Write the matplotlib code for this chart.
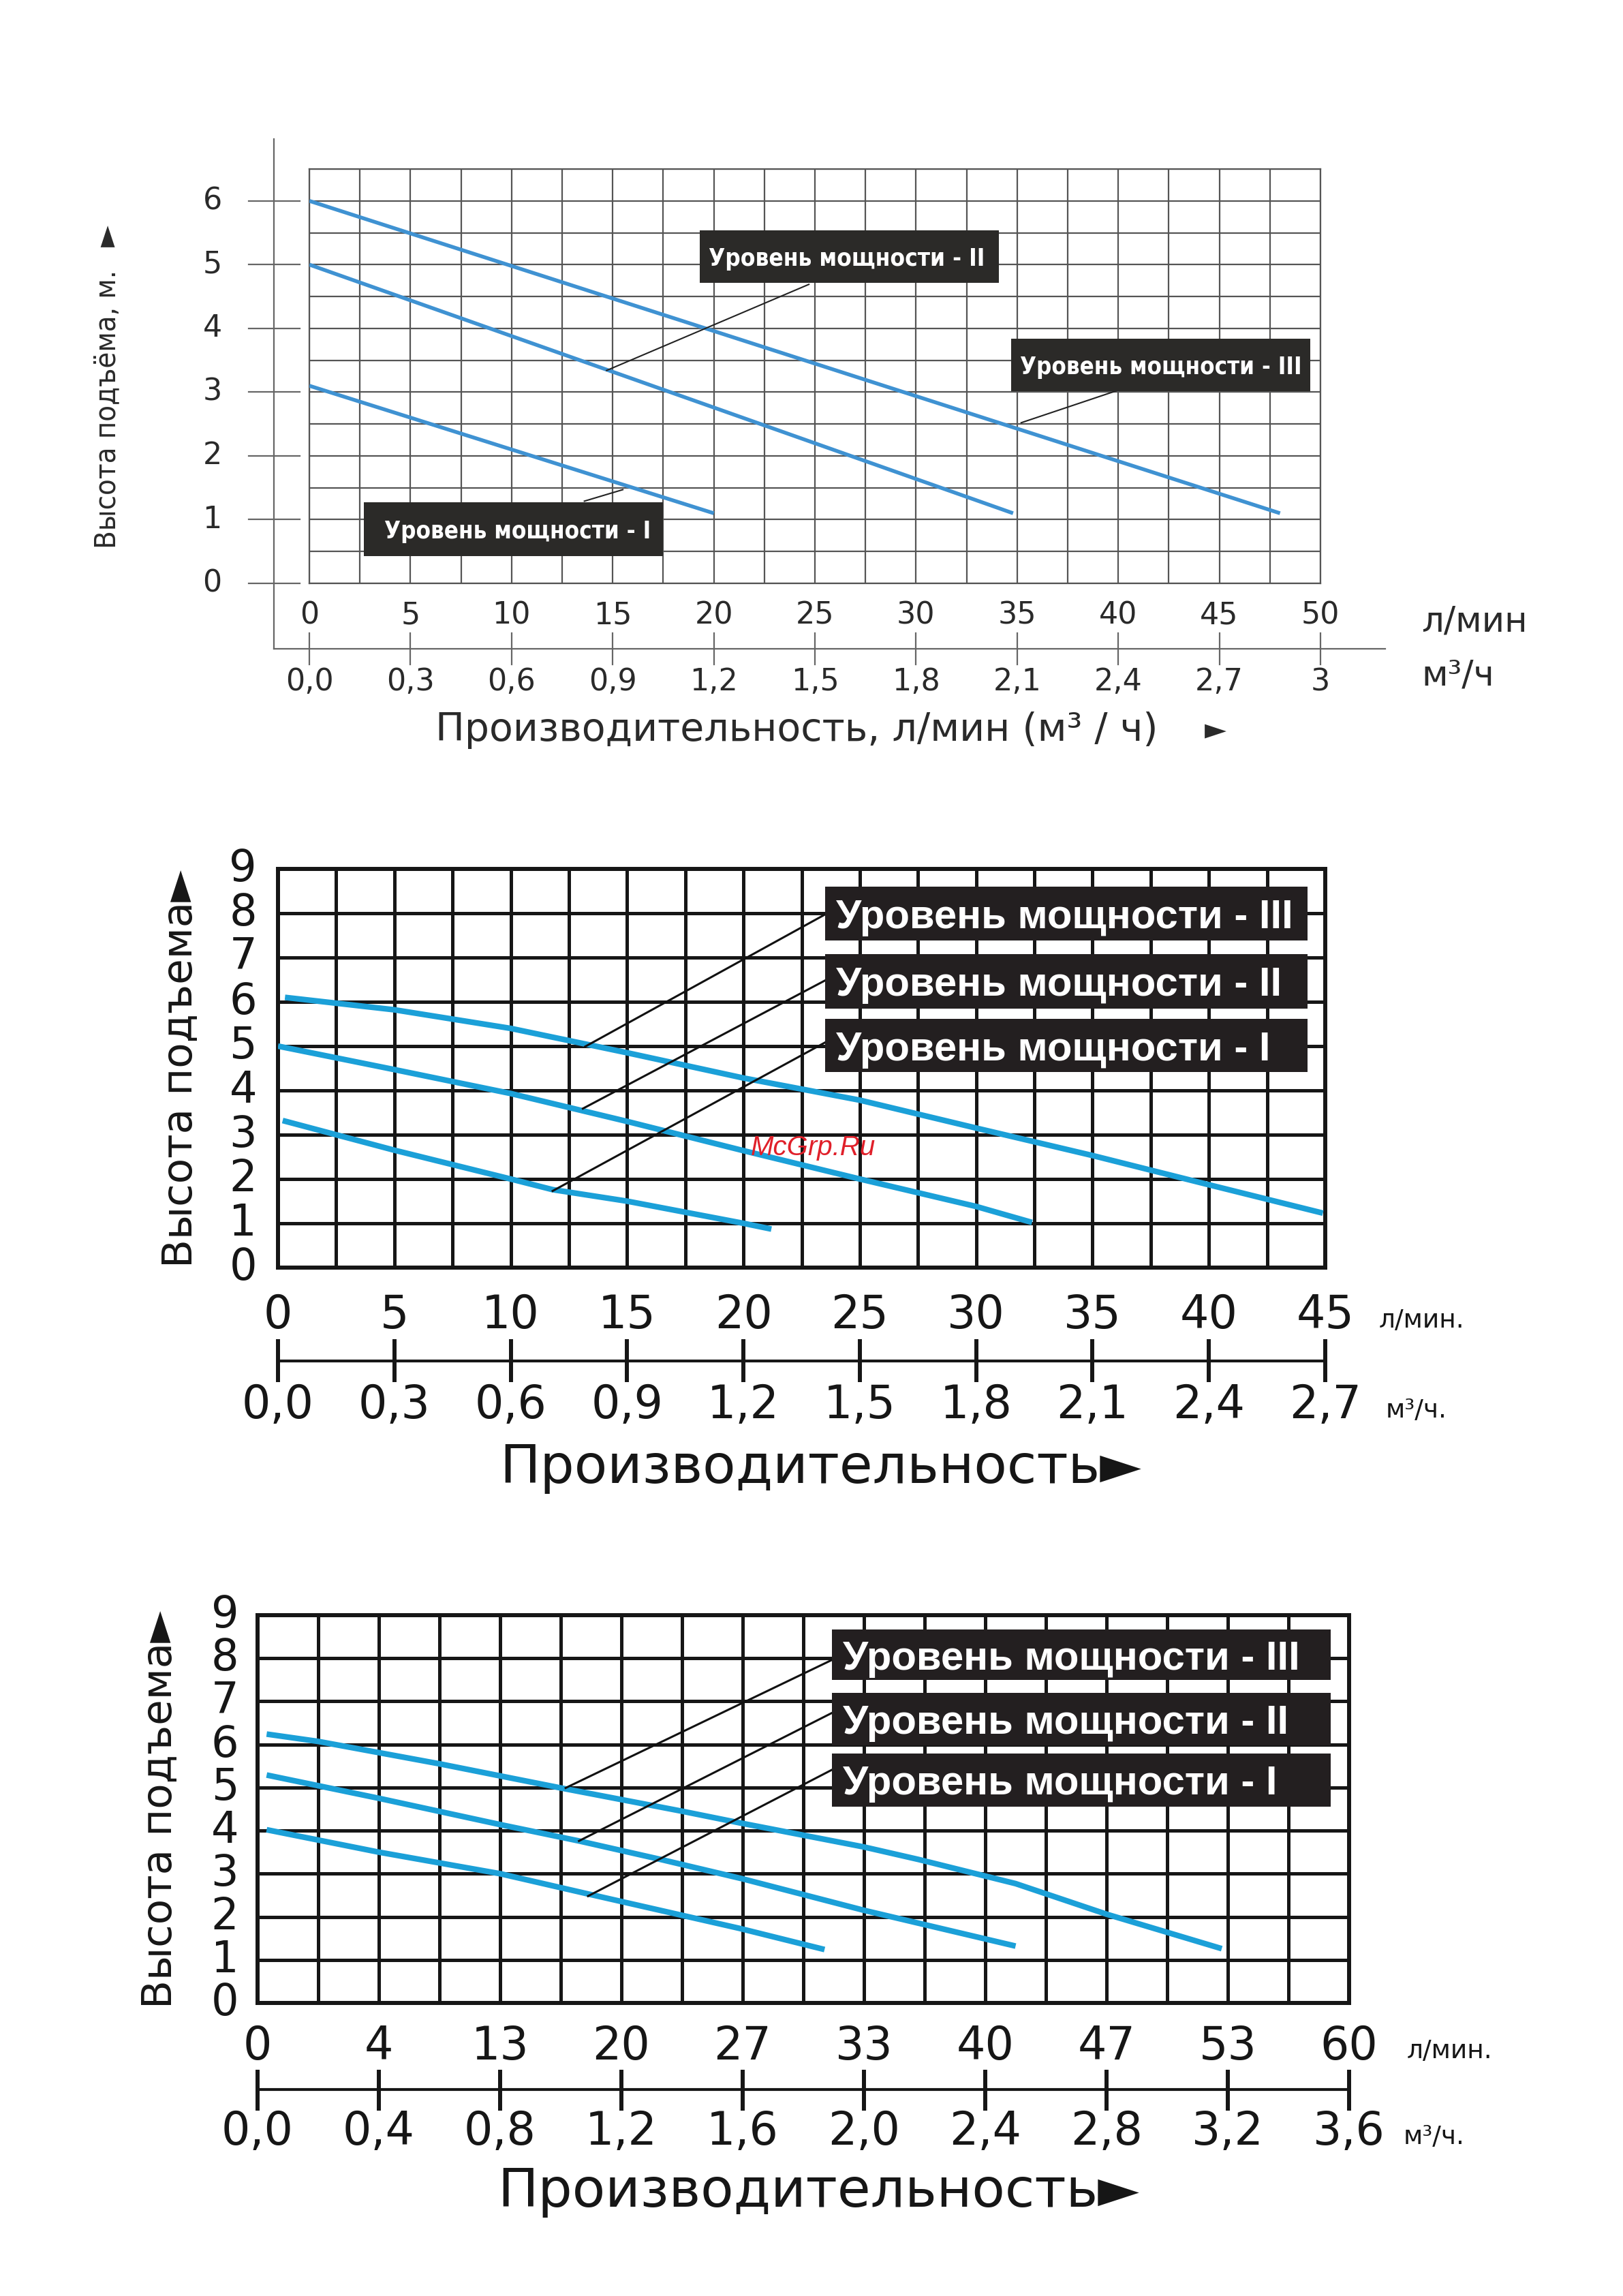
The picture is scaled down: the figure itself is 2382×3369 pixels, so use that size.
import os
import numpy as np
import matplotlib
matplotlib.use("Agg")
import matplotlib.pyplot as plt
from matplotlib import font_manager as fm
from matplotlib.font_manager import FontProperties
from matplotlib.patches import Rectangle

W, H = 2382, 3369
DPI = 100


def find_font(patterns, fallback):
    files = {os.path.basename(f.fname).lower(): f.fname for f in fm.fontManager.ttflist}
    for p in patterns:
        if p in files:
            return FontProperties(fname=files[p])
    return FontProperties(**fallback)


NARROW_BOLD = find_font(['liberationsansnarrow-bold.ttf', 'dejavusanscondensed-bold.ttf',
                         'robotocondensed-bold.ttf', 'notosans-condensedbold.ttf',
                         'opensans-condensedbold.ttf'],
                        dict(family='Liberation Sans', weight='bold'))
NARROW = find_font(['liberationsansnarrow-regular.ttf', 'dejavusanscondensed.ttf',
                    'robotocondensed-regular.ttf', 'notosans-condensed.ttf',
                    'opensans-condensedregular.ttf'],
                   dict(family='Liberation Sans'))

# ---------------- data ----------------
# chart 1 (l/min, m)
c1_lmin_ticks = [0, 5, 10, 15, 20, 25, 30, 35, 40, 45, 50]
c1_m3h_labels = ['0,0', '0,3', '0,6', '0,9', '1,2', '1,5', '1,8', '2,1', '2,4', '2,7', '3']
c1_head_ticks = [0, 1, 2, 3, 4, 5, 6]
c1_lvl1_x = [0, 20]
c1_lvl1_y = [3.1, 1.1]
c1_lvl2_x = [0, 34.8]
c1_lvl2_y = [5.0, 1.1]
c1_lvl3_x = [0, 48]
c1_lvl3_y = [6.0, 1.1]

# chart 2 (l/min, m)
c2_lmin_ticks = [0, 5, 10, 15, 20, 25, 30, 35, 40, 45]
c2_m3h_labels = ['0,0', '0,3', '0,6', '0,9', '1,2', '1,5', '1,8', '2,1', '2,4', '2,7']
c2_head_ticks = [0, 1, 2, 3, 4, 5, 6, 7, 8, 9]
c2_lvl1_x = [0.2, 5, 10, 11.8, 15, 20, 21.2]
c2_lvl1_y = [3.32, 2.65, 2.0, 1.76, 1.5, 1.0, 0.87]
c2_lvl2_x = [0, 5, 10, 15, 20, 25, 30, 32.4]
c2_lvl2_y = [5.0, 4.47, 3.93, 3.3, 2.64, 2.0, 1.38, 1.02]
c2_lvl3_x = [0.3, 5, 10, 15, 20, 25, 30, 35, 40, 44.9]
c2_lvl3_y = [6.1, 5.82, 5.4, 4.85, 4.28, 3.78, 3.15, 2.53, 1.87, 1.23]

# chart 3 (m3/h, m)
c3_m3h_ticks = [0, 0.4, 0.8, 1.2, 1.6, 2.0, 2.4, 2.8, 3.2, 3.6]
c3_m3h_labels = ['0,0', '0,4', '0,8', '1,2', '1,6', '2,0', '2,4', '2,8', '3,2', '3,6']
c3_lmin_labels = ['0', '4', '13', '20', '27', '33', '40', '47', '53', '60']
c3_head_ticks = [0, 1, 2, 3, 4, 5, 6, 7, 8, 9]
c3_lvl1_x = [0.03, 0.4, 0.8, 1.09, 1.59, 1.87]
c3_lvl1_y = [4.02, 3.5, 3.0, 2.53, 1.73, 1.24]
c3_lvl2_x = [0.03, 0.4, 0.8, 1.06, 1.33, 1.6, 2.0, 2.5]
c3_lvl2_y = [5.29, 4.75, 4.14, 3.76, 3.33, 2.88, 2.15, 1.32]
c3_lvl3_x = [0.03, 0.2, 0.6, 1.0, 1.4, 1.59, 2.0, 2.18, 2.5, 2.8, 3.18]
c3_lvl3_y = [6.24, 6.07, 5.55, 4.99, 4.45, 4.18, 3.62, 3.33, 2.77, 2.06, 1.26]

lvl_names = ['Уровень мощности - I', 'Уровень мощности - II', 'Уровень мощности - III']

fig = plt.figure(figsize=(W / DPI, H / DPI), dpi=DPI)
fig.patch.set_facecolor('white')
to_fit = []  # (text, max width in px; negative = max height)


def place(x0, y0, x1, y1):
    return fig.add_axes([x0 / W, 1 - y1 / H, (x1 - x0) / W, (y1 - y0) / H])


def grid_axes(ax, xlim, ylim, xstep, ystep, color, lw, slw):
    ax.set_xlim(*xlim)
    ax.set_ylim(*ylim)
    ax.set_xticks(np.arange(xlim[0], xlim[1] + 1e-9, xstep))
    ax.set_yticks(np.arange(ylim[0], ylim[1] + 1e-9, ystep))
    ax.tick_params(length=0, labelbottom=False, labelleft=False)
    ax.grid(True, color=color, lw=lw)
    ax.set_axisbelow(True)
    for s in ax.spines.values():
        s.set_color(color)
        s.set_linewidth(slw)
        s.set_zorder(0.5)
    ax.patch.set_alpha(0)


def label_box(ax, x0, x1, y0, y1, text, tx, fc, fp, size, maxw):
    ax.add_patch(Rectangle((x0, y0), x1 - x0, y1 - y0, facecolor=fc,
                           edgecolor='none', zorder=4, clip_on=False))
    fp = fp.copy()
    fp.set_size(size)
    t = ax.text(tx, (y0 + y1) / 2, text, color='white', fontproperties=fp,
                ha='left', va='center_baseline', zorder=5)
    to_fit.append((t, maxw))


# ================= chart 1 =================
ax1 = place(454, 248, 1938, 856)
grid_axes(ax1, (0, 50), (0, 6.5), 2.5, 0.5, '#555555', 1.6, 1.6)
blue1 = '#3f92d2'
for xs, ys in [(c1_lvl1_x, c1_lvl1_y), (c1_lvl2_x, c1_lvl2_y), (c1_lvl3_x, c1_lvl3_y)]:
    ax1.plot(xs, ys, color=blue1, lw=4.0, solid_capstyle='butt', zorder=3)

g1 = dict(color='#666666', lw=1.6, clip_on=False)
txt1 = '#2a2a2a'
ax1.plot([-1.75, -1.75], [-1.03, 6.97], **g1)
ax1.plot([-1.75, 53.2], [-1.03, -1.03], **g1)
for v in c1_head_ticks:
    ax1.plot([-3.0, -0.47], [v, v], **g1)
    ax1.text(-4.8, v, str(v), fontsize=32, ha='center', va='center', color=txt1)
for v, lab in zip(c1_lmin_ticks, c1_m3h_labels):
    ax1.plot([v, v], [-0.78, -1.27], **g1)
    ax1.text(v, -0.5, str(v), fontsize=32, ha='center', va='center', color=txt1)
    ax1.text(v, -1.55, lab, fontsize=32, ha='center', va='center', color=txt1)
ax1.text(55.0, -0.6, 'л/мин', fontsize=37, ha='left', va='center', color=txt1)
ax1.text(55.0, -1.45, 'м³/ч', fontsize=37, ha='left', va='center', color=txt1)
ax1.text(24.1, -2.3, 'Производительность, л/мин (м³ / ч)', fontsize=41,
         ha='center', va='center', color=txt1)
ax1.text(44.8, -2.3, '►', fontsize=30, ha='center', va='center', color=txt1)
fpy = NARROW.copy()
fpy.set_size(44)
ty = ax1.text(-10.0, 2.73, 'Высота подъёма, м.', fontproperties=fpy, rotation=90,
              ha='center', va='center', color=txt1)
to_fit.append((ty, -410))
ax1.text(-10.0, 5.45, '►', fontsize=30, rotation=90, ha='center', va='center',
         color=txt1)

box1 = '#2b2a28'
label_box(ax1, 19.3, 34.1, 4.71, 5.54, lvl_names[1], 19.75, box1, NARROW_BOLD, 30, 405)
label_box(ax1, 34.7, 49.5, 3.02, 3.84, lvl_names[2], 35.15, box1, NARROW_BOLD, 30, 412)
label_box(ax1, 2.7, 17.5, 0.43, 1.27, lvl_names[0], 3.7, box1, NARROW_BOLD, 30, 390)
c1 = dict(color='#222222', lw=1.5, zorder=3.5)
ax1.plot([24.7, 14.7], [4.69, 3.34], **c1)
ax1.plot([39.9, 35.2], [3.02, 2.52], **c1)
ax1.plot([13.6, 15.5], [1.29, 1.47], **c1)

# ================= chart 2 & 3 =================
blue2 = '#1ba0d8'
ink = '#161616'


def bottom_scale(ax, pos, top_labels, bot_labels, ly, ty0, ty1, r1, r2,
                 unit_x1, unit_x2, title_x, title_y, ylab_x, ytick_x, ticks):
    ax.plot([pos[0], pos[-1]], [ly, ly], color=ink, lw=3.0, clip_on=False,
            solid_capstyle='butt')
    for p, a, b in zip(pos, top_labels, bot_labels):
        ax.plot([p, p], [ty0, ty1], color=ink, lw=4.3, clip_on=False,
                solid_capstyle='butt')
        ax.text(p, r1, a, fontsize=48, ha='center', va='center', color=ink)
        ax.text(p, r2, b, fontsize=48, ha='center', va='center', color=ink)
    ax.text(unit_x1, r1 - 0.12, 'л/мин.', fontsize=27, ha='left', va='center', color=ink)
    ax.text(unit_x2, r2 - 0.12, 'м³/ч.', fontsize=27, ha='left', va='center', color=ink)
    ax.text(title_x, title_y, 'Производительность►', fontsize=57, ha='center',
            va='center', color=ink)
    for v in ticks:
        ax.text(ytick_x, v, str(v), fontsize=46, ha='center', va='center', color=ink)
    ax.text(ylab_x, 4.49, 'Высота подъема►', fontsize=44, rotation=90,
            ha='center', va='center', color=ink)


# chart 2
ax2 = place(408, 1275, 1945, 1860)
grid_axes(ax2, (0, 45), (0, 9), 2.5, 1, ink, 3.6, 4.3)
for xs, ys in [(c2_lvl1_x, c2_lvl1_y), (c2_lvl2_x, c2_lvl2_y), (c2_lvl3_x, c2_lvl3_y)]:
    ax2.plot(xs, ys, color=blue2, lw=6.0, solid_capstyle='butt', zorder=3)
bottom_scale(ax2, c2_lmin_ticks, [str(v) for v in c2_lmin_ticks], c2_m3h_labels,
             -2.11, -1.62, -2.58, -1.08, -3.11, 47.3, 47.6, 23.3, -4.52, -4.16, -1.5,
             c2_head_ticks)
box2 = '#231f20'
boldA = FontProperties(family=['Liberation Sans', 'DejaVu Sans'], weight='bold')
label_box(ax2, 23.5, 44.25, 7.39, 8.6, lvl_names[2], 23.97, box2, boldA, 43, 690)
label_box(ax2, 23.5, 44.25, 5.85, 7.08, lvl_names[1], 23.97, box2, boldA, 43, 690)
label_box(ax2, 23.5, 44.25, 4.41, 5.61, lvl_names[0], 23.97, box2, boldA, 43, 690)
c2 = dict(color='#111111', lw=2.2, zorder=3.5)
ax2.plot([23.5, 13.2], [7.97, 4.99], **c2)
ax2.plot([23.5, 13.1], [6.48, 3.59], **c2)
ax2.plot([23.5, 11.8], [5.08, 1.73], **c2)
ax2.text(23.0, 2.71, 'McGrp.Ru', color='#e0202a', fontsize=29, style='italic',
         family=['Liberation Sans', 'DejaVu Sans'], ha='center', va='center', zorder=6)

# chart 3
ax3 = place(378, 2370, 1980, 2939)
grid_axes(ax3, (0, 3.6), (0, 9), 0.2, 1, ink, 3.6, 4.3)
for xs, ys in [(c3_lvl1_x, c3_lvl1_y), (c3_lvl2_x, c3_lvl2_y), (c3_lvl3_x, c3_lvl3_y)]:
    ax3.plot(xs, ys, color=blue2, lw=6.0, solid_capstyle='butt', zorder=3)
bottom_scale(ax3, c3_m3h_ticks, c3_lmin_labels, c3_m3h_labels,
             -2.01, -1.55, -2.5, -1.01, -2.99, 3.79, 3.78, 1.85, -4.38, -0.32, -0.108,
             c3_head_ticks)
label_box(ax3, 1.894, 3.54, 7.49, 8.67, lvl_names[2], 1.93, box2, boldA, 43, 700)
label_box(ax3, 1.894, 3.54, 5.98, 7.2, lvl_names[1], 1.93, box2, boldA, 43, 700)
label_box(ax3, 1.894, 3.54, 4.56, 5.79, lvl_names[0], 1.93, box2, boldA, 43, 700)
ax3.plot([1.894, 1.016], [7.96, 4.99], **c2)
ax3.plot([1.894, 1.06], [6.73, 3.76], **c2)
ax3.plot([1.894, 1.09], [5.41, 2.48], **c2)

# shrink texts that would not fit their boxes with the available fonts
fig.canvas.draw()
renderer = fig.canvas.get_renderer()
for t, maxw in to_fit:
    bb = t.get_window_extent(renderer)
    size = bb.height if maxw < 0 else bb.width
    if size > abs(maxw):
        t.set_fontsize(t.get_fontsize() * abs(maxw) / size)

fig.savefig('out.png', dpi=DPI, facecolor='white')
